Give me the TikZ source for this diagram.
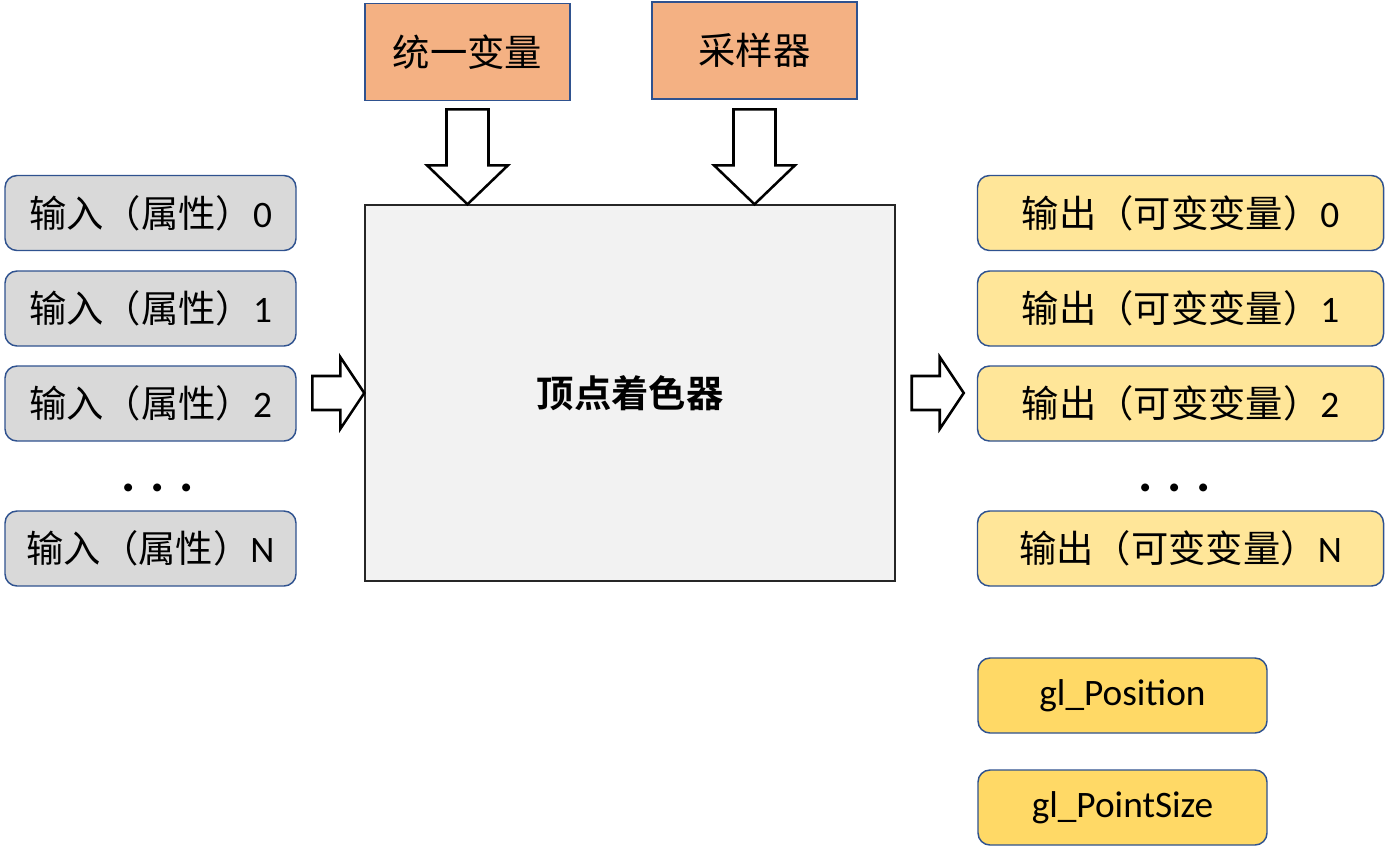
\documentclass[tikz,border=0pt]{standalone}
\usepackage{fontspec}
\setmainfont{Carlito}
\newfontfamily\cjk{Noto Sans CJK SC}[BoldFont={Noto Sans CJK SC Bold}]
\usetikzlibrary{calc}
\definecolor{bordblue}{HTML}{2F528F}
\definecolor{grayfill}{HTML}{D9D9D9}
\definecolor{yellowfill}{HTML}{FFE699}
\definecolor{goldfill}{HTML}{FFD966}
\definecolor{orangefill}{HTML}{F4B183}
\definecolor{corefill}{HTML}{F2F2F2}
\def\pxu{0.75pt}
\begin{document}
\begin{tikzpicture}[x=0.75pt,y=-0.75pt,
  font=\fontsize{28}{32}\selectfont,
  roundbox/.style={draw=bordblue, line width=1.1pt, rounded corners=9pt,
    inner sep=0pt, minimum height=75*\pxu},
  inbox/.style={roundbox, fill=grayfill, minimum width=291*\pxu},
  outbox/.style={roundbox, fill=yellowfill, minimum width=406*\pxu},
  glbox/.style={roundbox, fill=goldfill, minimum width=289*\pxu},
  topbox/.style={draw=bordblue, line width=1.1pt, fill=orangefill,
    inner sep=0pt, minimum width=205*\pxu, minimum height=97*\pxu},
  core/.style={draw=black!85, line width=1.1pt, fill=corefill,
    inner sep=0pt, minimum width=530*\pxu, minimum height=376*\pxu},
  blockarrow/.style={draw=black, fill=white, line width=1.9pt, line join=miter},
  dots/.style={font=\fontsize{40}{44}\selectfont\bfseries, inner sep=0pt}]
\useasboundingbox (0,0) rectangle (1385,854);

% shader body
\node[core] (vs) at (630,393) {\cjk\bfseries 顶点着色器};

% uniform inputs
\node[topbox] (uni) at (467.5,52) {\cjk 统一变量};
\node[topbox] (smp) at (754.5,50.5) {\cjk 采样器};

% attribute inputs
\node[inbox] (in0) at (150.5,213)   {{\cjk 输入（属性）}0};
\node[inbox] (in1) at (150.5,308.5) {{\cjk 输入（属性）}1};
\node[inbox] (in2) at (150.5,403.5) {{\cjk 输入（属性）}2};
\node[dots]  (ind) at (158,488) {.\hspace{11pt}.\hspace{11pt}.};
\node[inbox] (inN) at (150.5,548.5) {{\cjk 输入（属性）}N};

% varying outputs
\node[outbox] (out0) at (1180.5,213)   {{\cjk 输出（可变变量）}0};
\node[outbox] (out1) at (1180.5,308.5) {{\cjk 输出（可变变量）}1};
\node[outbox] (out2) at (1180.5,403.5) {{\cjk 输出（可变变量）}2};
\node[dots]   (outd) at (1175,488) {.\hspace{11pt}.\hspace{11pt}.};
\node[outbox] (outN) at (1180.5,548.5) {{\cjk 输出（可变变量）}N};

% built-in outputs
\node[glbox] (pos) at (1122.5,695.5) {gl\_Position};
\node[glbox] (psz) at (1122.5,807.5) {gl\_PointSize};

% block arrows into and out of the shader
\coordinate (t1) at (uni.south |- vs.north);
\coordinate (t2) at (smp.south |- vs.north);
\coordinate (t3) at (vs.west);
\coordinate (t4) at ($(vs.east)+(68,0)$);
\foreach \t in {t1,t2}
  \draw[blockarrow] (\t) -- ++(-40.5,-39) -- ++(19.5,0) -- ++(0,-56)
    -- ++(42,0) -- ++(0,56) -- ++(19.5,0) -- cycle;
\foreach \t in {t3,t4}
  \draw[blockarrow] (\t) -- ++(-24,-36) -- ++(0,19) -- ++(-28,0)
    -- ++(0,34) -- ++(28,0) -- ++(0,19) -- cycle;
\end{tikzpicture}
\end{document}
